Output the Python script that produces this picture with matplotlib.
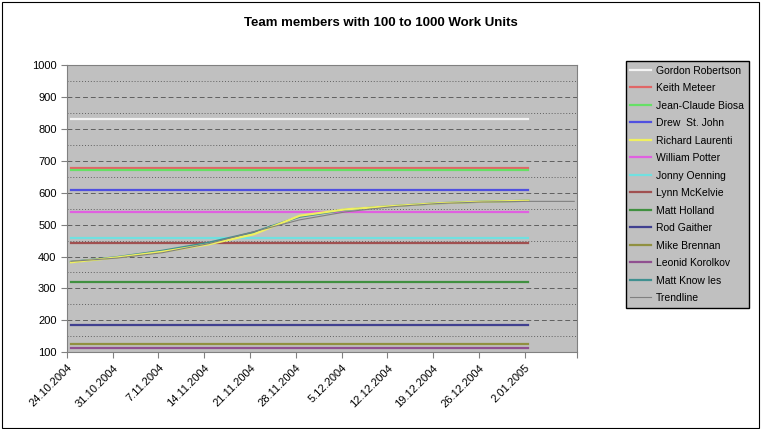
import matplotlib
matplotlib.use("Agg")
import matplotlib.pyplot as plt
from matplotlib.patches import Rectangle

plt.rcParams["font.family"] = "Liberation Sans"

# day offsets from 24.10.2004
days = [0, 7, 14, 21, 28, 35, 42, 49, 56, 63, 70]
tick_labels = ["24.10.2004", "31.10.2004", "7.11.2004", "14.11.2004", "21.11.2004",
               "28.11.2004", "5.12.2004", "12.12.2004", "19.12.2004", "26.12.2004",
               "2.01.2005"]

names = ["Gordon Robertson", "Keith Meteer", "Jean-Claude Biosa", "Drew  St. John",
         "Richard Laurenti", "William Potter", "Jonny Oenning", "Lynn McKelvie",
         "Matt Holland", "Rod Gaither", "Mike Brennan", "Leonid Korolkov",
         "Matt Know les"]
colors = ["#f4f4f4", "#e06666", "#66e066", "#5050e0", "#f0f060", "#e060e0",
          "#70e0e0", "#a05050", "#409040", "#404090", "#909040", "#905090",
          "#409090"]

gordon = [830] * 11
keith = [678] * 11
jean_claude = [671] * 11
drew = [609] * 11
richard = [382, 397, 415, 438, 470, 528, 548, 558, 567, 572, 575]
william = [540] * 11
jonny = [458] * 11
lynn = [443] * 11
matt_holland = [320] * 11
rod = [185] * 11
mike = [126] * 11
leonid = [113] * 11
matt_knowles = [383, 398, 418, 443, 476, 525, 547, 558, 567, 572, 575]
series = [gordon, keith, jean_claude, drew, richard, william, jonny, lynn,
          matt_holland, rod, mike, leonid, matt_knowles]

trend_days = [0, 7, 14, 21, 28, 35, 42, 49, 56, 63, 70, 77]
trend = [385, 395, 412, 440, 478, 515, 540, 556, 566, 571, 573, 573]

fig = plt.figure(figsize=(7.61, 4.29), dpi=100)
fig.patches.append(Rectangle((0.002, 0.003), 0.995, 0.993, transform=fig.transFigure,
                             fill=False, edgecolor="black", linewidth=0.8))
ax = fig.add_axes([0.088, 0.179, 0.67, 0.669])
ax.set_facecolor("#c0c0c0")

draw_order = [0, 1, 2, 3, 5, 6, 7, 8, 9, 10, 11, 12, 4]
handles = {}
for i in draw_order:
    h, = ax.plot(days, series[i], color=colors[i], linewidth=1.6, label=names[i])
    handles[i] = h
th, = ax.plot(trend_days, trend, color="#808080", linewidth=0.8, label="Trendline")

ax.set_xlim(-0.6, 77.4)
ax.set_ylim(100, 1000)
ax.set_yticks(range(100, 1001, 100))
ax.set_yticks(range(150, 1000, 100), minor=True)
ax.tick_params(axis="y", which="minor", length=0)
ax.grid(axis="y", which="major", color="#606060", linestyle=(0, (5, 3)), linewidth=0.7)
ax.grid(axis="y", which="minor", color="#606060", linestyle=(0, (1, 2)), linewidth=0.7)
ax.set_axisbelow(True)
ax.set_xticks([d - 0.6 for d in days] + [77.4])
ax.set_xticklabels(tick_labels + [""], rotation=45, ha="right", rotation_mode="anchor")
ax.tick_params(labelsize=8, length=4, color="#808080")
for s in ax.spines.values():
    s.set_color("#808080")

fig.suptitle("Team members with 100 to 1000 Work Units", fontsize=9.5,
             fontweight="bold", y=0.96, x=0.5)

leg = fig.legend([handles[i] for i in range(13)] + [th], names + ["Trendline"],
                 loc="upper left", bbox_to_anchor=(0.822, 0.858), fontsize=7.5,
                 frameon=True, fancybox=False, handlelength=2.0, handletextpad=0.5,
                 labelspacing=0.72, borderpad=0.45, borderaxespad=0)
leg.get_frame().set_facecolor("#c0c0c0")
leg.get_frame().set_edgecolor("black")
leg.get_frame().set_alpha(1)

fig.savefig("out.png", dpi=100)
